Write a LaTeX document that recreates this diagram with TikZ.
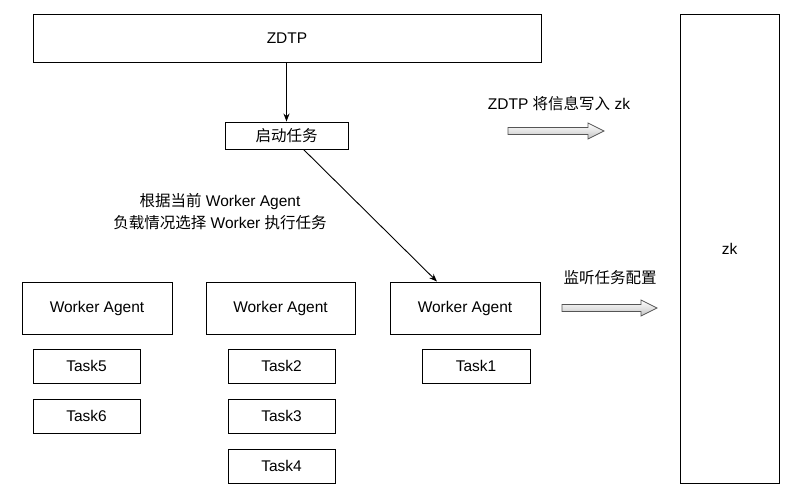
\documentclass[tikz,border=0pt]{standalone}
\usepackage{fontspec}
\setmainfont{Liberation Sans}
\newfontfamily\cjk{Noto Sans CJK SC}
\usetikzlibrary{arrows.meta}
\definecolor{zkLine}{HTML}{000000}
\definecolor{zkFatFill}{HTML}{E3E3E3}
\definecolor{zkFatLine}{HTML}{555555}
\tikzset{
  zk diagram/.style={
    x=1pt, y=-1pt, line width=0.9pt,
    >={Stealth[length=8pt,width=6pt]},
    every node/.style={font=\fontsize{15.5}{22}\selectfont, text=black}
  },
  zk box/.style={draw=zkLine, fill=white, inner sep=0pt},
  zk fat/.style={draw=zkFatLine, top color=white, bottom color=zkFatFill!85!black,
    middle color=zkFatFill, line width=0.7pt, line join=miter}
}
\newcommand{\ZkFatArrow}[3]{%
  \draw[zk fat] (#1,{#3-3.5}) -- ({#2-16},{#3-3.5}) -- ({#2-16},{#3-8})
    -- (#2,#3) -- ({#2-16},{#3+8}) -- ({#2-16},{#3+3.5}) -- (#1,{#3+3.5}) -- cycle;
}
\begin{document}
\begin{tikzpicture}[zk diagram]
    \useasboundingbox (0,0) rectangle (801,497);
    % top and right
    \node[zk box, minimum width=508pt, minimum height=48pt] (zdtp) at (287,38) {ZDTP};
    \node[zk box, minimum width=123pt, minimum height=27pt] (start) at (286.5,135.5) {\cjk 启动任务};
    \node[zk box, minimum width=99pt, minimum height=469pt] (zk) at (729.5,248.5) {zk};
    % workers
    \node[zk box, minimum width=150pt, minimum height=52pt] (wa1) at (97,308) {Worker Agent};
    \node[zk box, minimum width=149pt, minimum height=52pt] (wa2) at (280.5,308) {Worker Agent};
    \node[zk box, minimum width=150pt, minimum height=52pt] (wa3) at (465,308) {Worker Agent};
    % tasks
    \node[zk box, minimum width=107pt, minimum height=34pt] (task5) at (86.5,366) {Task5};
    \node[zk box, minimum width=107pt, minimum height=34pt] (task6) at (86.5,416) {Task6};
    \node[zk box, minimum width=107pt, minimum height=34pt] (task2) at (281.5,366) {Task2};
    \node[zk box, minimum width=107pt, minimum height=34pt] (task3) at (281.5,416) {Task3};
    \node[zk box, minimum width=107pt, minimum height=34pt] (task4) at (281.5,466) {Task4};
    \node[zk box, minimum width=108pt, minimum height=34pt] (task1) at (476,366) {Task1};
    % connectors
    \draw[->] (zdtp.south -| start.north) -- (start.north);
    \coordinate (pick from) at ([xshift=17pt]start.south);
    \coordinate (pick to) at ([xshift=-28pt]wa3.north);
    \draw[->] (pick from) -- (pick to);
    \node[align=center] (pick label) at (220,211.5) {{\cjk 根据当前} Worker Agent\\{\cjk 负载情况选择} Worker {\cjk 执行任务}};
    % zk arrows
    \ZkFatArrow{508}{604}{131}
    \node (write label) at (559,104) {ZDTP {\cjk 将信息写入} zk};
    \ZkFatArrow{562}{657}{308}
    \node (watch label) at (610,278) {\cjk 监听任务配置};
  \end{tikzpicture}
\end{document}
